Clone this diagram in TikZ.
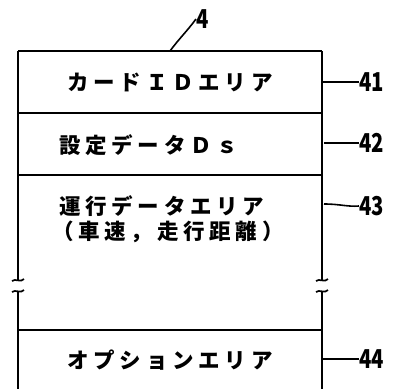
\documentclass[tikz,border=0pt]{standalone}
\usepackage{fontspec}
\newfontfamily\jp{Noto Sans CJK JP}[LetterSpace=22]
\newfontfamily\jpnum{Noto Sans CJK JP}
\begin{document}
\begin{tikzpicture}[x=1pt,y=-1pt,
  frame/.style={line width=2.5pt},
  leader/.style={line width=1.6pt},
  lbl/.style={font=\jp\bfseries\fontsize{21.5}{24}\selectfont, inner sep=0pt},
  num/.style={font=\jpnum\bfseries\fontsize{26}{28}\selectfont, inner sep=0pt, anchor=west, xscale=0.78}]
\useasboundingbox (0,0) rectangle (394,389);
% frame corners
\coordinate (tl) at (18,51);
\coordinate (tr) at (322,51);
\coordinate (bl) at (18,389);
\coordinate (br) at (322,389);
% top and dividing lines
\draw[frame] (tl) -- (tr);
\draw[frame] (18,113) -- (322,113);
\draw[frame] (18,175) -- (322,175);
\draw[frame] (18,330) -- (322,330);
% side lines with break marks
\draw[frame] (tl) -- (18,280);
\draw[frame] (18,292) -- (bl);
\draw[frame] (322,51) -- (322,280);
\draw[frame] (322,292) -- (br);
\foreach \x in {18,322}{
  \draw[line width=1.7pt] (\x-6,281) .. controls (\x-3,278) and (\x+3,283) .. (\x+6,279);
  \draw[line width=1.7pt] (\x-6,292) .. controls (\x-3,289) and (\x+3,294) .. (\x+6,290);
}
% texts
\node[lbl] (t41) at (170,82) {カードＩＤエリア};
\node[lbl, anchor=west] (t42) at (59,145) {設定データＤｓ};
\node[lbl, anchor=west] (t43a) at (59,206) {運行データエリア};
\node[lbl, anchor=west] (t43b) at (52,232) {（車速，走行距離）};
\node[lbl] (t44) at (170,360) {オプションエリア};
% reference numbers
\node[num] (n4) at (196,19) {4};
\node[num] (n41) at (359,82) {41};
\node[num] (n42) at (359,143) {42};
\node[num] (n43) at (359,206) {43};
\node[num] (n44) at (359,359) {44};
\coordinate (a4) at (170,51);
\coordinate (a41) at (322,82);
\coordinate (a42) at (324,143);
\coordinate (a43) at (324,204);
\coordinate (a44) at (322,359);
\draw[leader] (a4) .. controls (178,40) and (188,30) .. (n4.west);
\draw[leader] (a41) -- (n41.west);
\draw[leader] (a42) -- (n42.west);
\draw[leader] (a43) .. controls (340,204) and (348,207) .. (n43.west);
\draw[leader] (a44) -- (n44.west);
\end{tikzpicture}
\end{document}
